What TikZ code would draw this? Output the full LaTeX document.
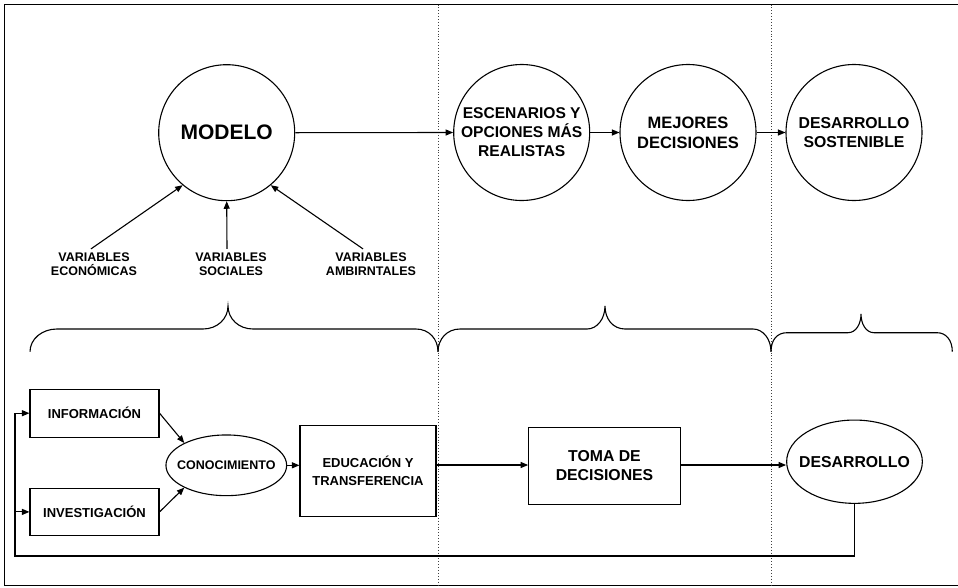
\documentclass[tikz,border=0pt]{standalone}
\usepackage{fontspec}
\setmainfont{Liberation Sans}
\usetikzlibrary{arrows.meta,shapes.geometric,calc}
\begin{document}
\begin{tikzpicture}[x=1pt,y=-1pt,
  line width=1.1pt,
  arr/.style={-{Triangle[length=7.5pt,width=6pt]}},
  bigcirc/.style={draw,circle,minimum size=136pt,inner sep=0pt,align=center,font=\bfseries\fontsize{16}{19}\selectfont},
  varlbl/.style={align=center,inner sep=1pt,font=\bfseries\fontsize{12.5}{14.3}\selectfont},
  boxnode/.style={draw,rectangle,inner sep=0pt,align=center},
  ellnode/.style={draw,ellipse,inner sep=0pt},
  divider/.style={dotted,line width=0.9pt,black!75},
  bracepath/.style={line width=1.1pt}]
\useasboundingbox (0,0) rectangle (958,587);
% frame
\draw[line width=1.4pt,black] (958,4.5) -- (4.5,4.5) -- (4.5,585.7) -- (958,585.7);
% dividers
\draw[divider] (438,4.5) -- (438,585.7);
\draw[divider] (771,4.5) -- (771,585.7);
% top circles
\node[bigcirc,font=\bfseries\fontsize{21}{24}\selectfont] (modelo) at (226.7,132.7) {MODELO};
\node[bigcirc,font=\bfseries\fontsize{15.6}{19}\selectfont] (esc) at (521.7,132.5) {ESCENARIOS Y\\OPCIONES MÁS\\REALISTAS};
\node[bigcirc,font=\bfseries\fontsize{16.5}{20}\selectfont] (mej) at (688,132.5) {MEJORES\\DECISIONES};
\node[bigcirc,font=\bfseries\fontsize{15.8}{18.5}\selectfont] (dsos) at (854,132.5) {DESARROLLO\\SOSTENIBLE};
\draw[arr] (modelo.east) -- (esc.west);
\draw[arr] (esc.east) -- (mej.west);
\draw[arr] (mej.east) -- (dsos.west);
% variables
\node[varlbl] (vec) at (94,264) {VARIABLES\\ECONÓMICAS};
\node[varlbl] (vso) at (231,264) {VARIABLES\\SOCIALES};
\node[varlbl] (vam) at (371,264) {VARIABLES\\AMBIRNTALES};
\draw[arr] ($(vec.north)+(-3,-2)$) -- (modelo.-130);
\draw[arr] ($(vso.north)+(-4,-2)$) -- (modelo.-90);
\draw[arr] ($(vam.north)+(-8,-2)$) -- (modelo.-50);
% braces
\draw[bracepath] (30,351.7) .. controls (30,339) and (42,329) .. (57,329) -- (203,329)
  .. controls (217,329) and (228,319) .. (228,306)
  .. controls (228,319) and (239,329) .. (253,329) -- (416,329)
  .. controls (429,329) and (438,339) .. (438,351.7);
\draw[bracepath] (438,351.7) .. controls (438,339) and (447,329) .. (460,329) -- (587,329)
  .. controls (597,329) and (605,319) .. (605,306)
  .. controls (605,319) and (613,329) .. (625,329) -- (753,329)
  .. controls (763,329) and (771,339) .. (771,351.7);
\draw[bracepath] (771,351.7) .. controls (771,340) and (777,332.7) .. (787,332.7) -- (848,332.7)
  .. controls (856,332.7) and (861,324) .. (861,314)
  .. controls (861,324) and (866,332.7) .. (874,332.7) -- (937,332.7)
  .. controls (946,332.7) and (952.3,340) .. (952.3,351.7);
% bottom row
\node[boxnode,minimum width=129pt,minimum height=47.7pt,font=\bfseries\fontsize{13}{15}\selectfont] (info) at (94.5,413.2) {INFORMACIÓN};
\node[boxnode,minimum width=129pt,minimum height=47.7pt,font=\bfseries\fontsize{13}{15}\selectfont] (inv) at (94.5,511.9) {INVESTIGACIÓN};
\node[ellnode,minimum width=120.7pt,minimum height=60.7pt,font=\bfseries\fontsize{12.5}{15}\selectfont] (cono) at (226.3,465.3) {\makebox[0pt]{CONOCIMIENTO}};
\node[boxnode,minimum width=136pt,minimum height=91pt,font=\bfseries\fontsize{13}{17.7}\selectfont] (edu) at (368,470.8) {EDUCACIÓN Y\\TRANSFERENCIA};
\node[boxnode,minimum width=151.6pt,minimum height=77pt,font=\bfseries\fontsize{15.8}{18.7}\selectfont] (toma) at (604.5,465.8) {TOMA DE\\DECISIONES};
\node[ellnode,minimum width=135.7pt,minimum height=83.3pt,font=\bfseries\fontsize{15.8}{18}\selectfont] (des) at (854.5,461.7) {\makebox[0pt]{DESARROLLO}};
\coordinate (fb) at (15,556);
\draw[arr] (info.east) -- (cono.152);
\draw[arr] (inv.east) -- (cono.-152);
\draw[arr] (cono.east) -- (cono.east -| edu.west);
\draw[arr] (edu.east |- 0,465) -- (toma.west |- 0,465);
\draw[arr] (toma.east |- 0,465) -- (des.west |- 0,465);
\draw[arr] (des.south) |- (fb) |- (info.west);
\draw[arr] (fb |- inv.west) -- (inv.west);
\end{tikzpicture}
\end{document}
